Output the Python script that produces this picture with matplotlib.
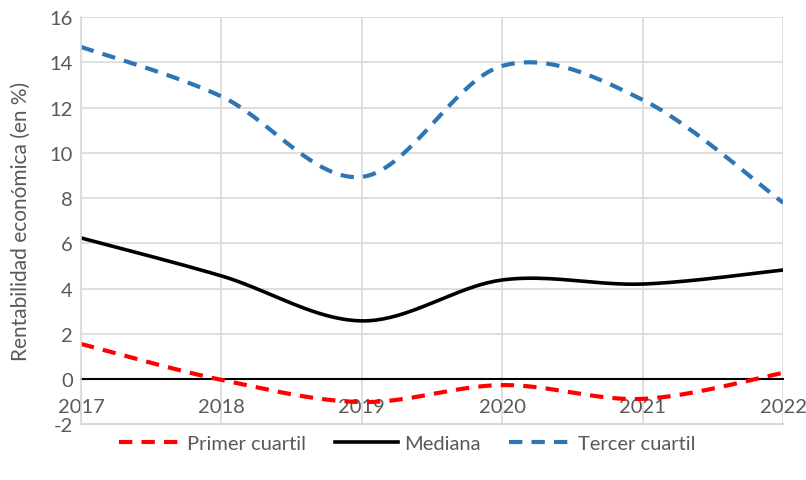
import numpy as np
import matplotlib.pyplot as plt

years = [2017, 2018, 2019, 2020, 2021, 2022]
primer = [1.55, -0.04, -1.02, -0.27, -0.88, 0.27]
mediana = [6.24, 4.56, 2.57, 4.38, 4.20, 4.82]
tercer = [14.69, 12.50, 8.94, 13.85, 12.35, 7.80]
yticks = [-2, 0, 2, 4, 6, 8, 10, 12, 14, 16]


def smooth(x, y, n=40):
    # Excel-style smoothed line: cubic Bezier with Catmull-Rom control points
    x = np.asarray(x, float)
    y = np.asarray(y, float)
    px = np.concatenate([[x[0]], x, [x[-1]]])
    py = np.concatenate([[y[0]], y, [y[-1]]])
    xs, ys = [], []
    t = np.linspace(0, 1, n)
    for i in range(1, len(px) - 2):
        p0 = np.array([px[i], py[i]])
        p3 = np.array([px[i + 1], py[i + 1]])
        p1 = p0 + (np.array([px[i + 1], py[i + 1]]) - np.array([px[i - 1], py[i - 1]])) / 6
        p2 = p3 - (np.array([px[i + 2], py[i + 2]]) - np.array([px[i], py[i]])) / 6
        b = ((1 - t) ** 3)[:, None] * p0 + (3 * (1 - t) ** 2 * t)[:, None] * p1 \
            + (3 * (1 - t) * t ** 2)[:, None] * p2 + (t ** 3)[:, None] * p3
        xs.extend(b[:, 0])
        ys.extend(b[:, 1])
    return xs, ys


plt.rcParams['font.family'] = ['Lato', 'DejaVu Sans']
plt.rcParams['axes.unicode_minus'] = False
grey = '#595959'
fs = 14.5

fig = plt.figure(figsize=(8.06, 4.81), dpi=100)
ax = fig.add_axes([0.1005, 0.116, 0.871, 0.846])

ax.plot(*smooth(years, primer), color='#ff0000', lw=3, dashes=(3.2, 2.2), label='Primer cuartil')
ax.plot(*smooth(years, mediana), color='black', lw=2.6, label='Mediana')
ax.plot(*smooth(years, tercer), color='#2e75b6', lw=3, dashes=(3.2, 2.2), label='Tercer cuartil')
ax.axhline(-2, color='#d9d9d9', lw=1.5, zorder=0.5, clip_on=False)

ax.set_xlim(2017, 2022)
ax.set_ylim(-2, 16)
ax.set_yticks(yticks)
ax.set_xticks(years)
ax.grid(True, color='#d9d9d9', lw=1.2)
ax.set_axisbelow(True)
for s in ['top', 'right']:
    ax.spines[s].set_visible(False)
ax.spines['left'].set_color('#d9d9d9')
ax.spines['left'].set_linewidth(1.2)
ax.spines['bottom'].set_position(('data', 0))
ax.spines['bottom'].set_color('black')
ax.spines['bottom'].set_linewidth(1.5)
ax.spines['bottom'].set_zorder(1.5)
ax.tick_params(length=0, labelsize=fs, colors=grey, pad=6)
ax.tick_params(axis='x', pad=14)
ax.set_ylabel('Rentabilidad económica (en %)', fontsize=15, color=grey, labelpad=13)

fig.legend(loc='center', ncol=3, frameon=False, fontsize=fs, labelcolor=grey,
           bbox_to_anchor=(0.505, 0.076), handlelength=3.1, columnspacing=1.45, handletextpad=0.3)

fig.savefig('out.png', dpi=100)
